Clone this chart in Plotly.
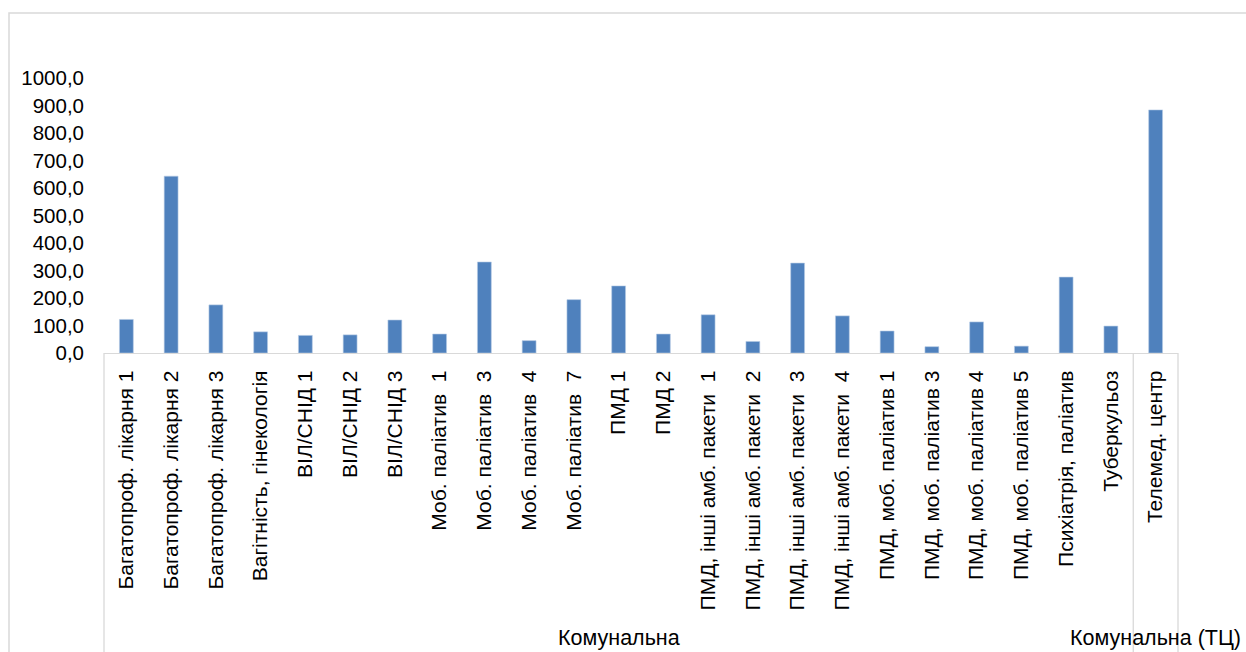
import plotly.graph_objects as go

# Service packages and the average value per package
categories = [
    "Багатопроф. лікарня 1",
    "Багатопроф. лікарня 2",
    "Багатопроф. лікарня 3",
    "Вагітність, гінекологія",
    "ВІЛ/СНІД 1",
    "ВІЛ/СНІД 2",
    "ВІЛ/СНІД 3",
    "Моб. паліатив \u00a01",
    "Моб. паліатив \u00a03",
    "Моб. паліатив \u00a04",
    "Моб. паліатив \u00a07",
    "ПМД 1",
    "ПМД 2",
    "ПМД, інші амб. пакети \u00a01",
    "ПМД, інші амб. пакети \u00a02",
    "ПМД, інші амб. пакети \u00a03",
    "ПМД, інші амб. пакети \u00a04",
    "ПМД, моб. паліатив 1",
    "ПМД, моб. паліатив 3",
    "ПМД, моб. паліатив 4",
    "ПМД, моб. паліатив 5",
    "Психіатрія, паліатив",
    "Туберкульоз",
    "Телемед. центр",
]
values = [122, 643, 175, 77, 64, 66, 120, 69, 331, 45, 194, 244, 69,
          139, 42, 327, 135, 80, 23, 113, 25, 276, 98, 884]

# Ownership groups: (label, number of categories)
groups = [("Комунальна", 23), ("Комунальна (ТЦ)", 1)]

y_ticks = [0, 100, 200, 300, 400, 500, 600, 700, 800, 900, 1000]
y_tick_text = ["0,0", "100,0", "200,0", "300,0", "400,0", "500,0",
               "600,0", "700,0", "800,0", "900,0", "1000,0"]

FONT = "Liberation Sans, Arial, sans-serif"
GRID = "#d9d9d9"
W, H = 1246, 652
L, R, T, B = 104, 68, 78, 299
plot_w = W - L - R
plot_h = H - T - B

fig = go.Figure(
    go.Bar(
        x=categories,
        y=values,
        marker=dict(color="#4f81bd", line=dict(color="#b9cde5", width=0.6)),
    )
)

shapes = []
annotations = []
n = len(categories)
bottom = -(B) / plot_h  # paper y at bottom of the canvas

# Group dividers below the category axis and group labels
start = 0
shapes.append(dict(type="line", xref="paper", yref="paper", x0=0, x1=0,
                   y0=0, y1=bottom - 0.05, line=dict(color=GRID, width=1.3)))
for label, count in groups:
    end = start + count
    xe = end / n
    shapes.append(dict(type="line", xref="paper", yref="paper", x0=xe, x1=xe,
                       y0=0, y1=bottom - 0.05, line=dict(color=GRID, width=1.3)))
    annotations.append(dict(
        text=label, xref="paper", yref="paper",
        x=(start + end) / 2 / n, y=-(638 - (T + plot_h)) / plot_h,
        xanchor="center", yanchor="middle", showarrow=False,
        font=dict(family=FONT, size=21.5, color="#000000"),
    ))
    start = end

# Outer chart frame
shapes.append(dict(type="rect", xref="paper", yref="paper",
                   x0=(9 - L) / plot_w, x1=(W + 20 - L) / plot_w,
                   y0=bottom - 0.1, y1=(T + plot_h - 13) / plot_h,
                   line=dict(color=GRID, width=1.5), fillcolor="rgba(0,0,0,0)",
                   layer="below"))

fig.update_layout(
    width=W, height=H,
    margin=dict(l=L, r=R, t=T, b=B, autoexpand=False),
    paper_bgcolor="white", plot_bgcolor="white",
    bargap=0.69,
    showlegend=False,
    shapes=shapes,
    annotations=annotations,
    font=dict(family=FONT, size=20, color="#000000"),
)
fig.update_xaxes(
    type="category",
    range=[-0.5, n - 0.5],
    tickangle=-90,
    showline=True, linecolor=GRID, linewidth=1.3,
    showgrid=False, ticks="",
    ticklabelstandoff=8,
    tickfont=dict(family=FONT, size=21, color="#000000"),
)
fig.update_yaxes(
    range=[0, 1000],
    tickvals=y_ticks, ticktext=y_tick_text,
    showline=False, showgrid=False, zeroline=False, ticks="",
    ticklabelstandoff=19,
    tickfont=dict(family=FONT, size=20.5, color="#000000"),
)

fig.write_html("out.html")
